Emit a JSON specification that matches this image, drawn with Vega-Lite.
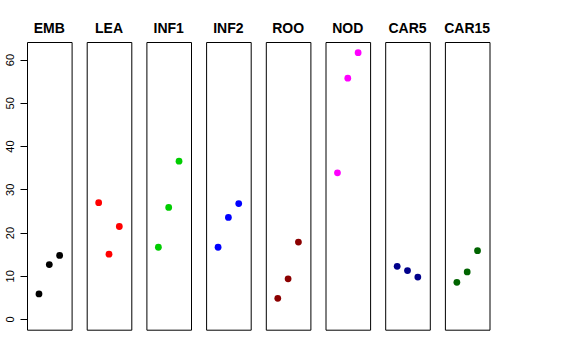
{
  "$schema": "https://vega.github.io/schema/vega-lite/v6.json",
  "padding": {"left": 3, "top": 22, "right": 5, "bottom": 5},
  "background": "white",
  "bounds": "flush",
  "data": {"values": [
    {"tissue": "EMB", "x": 1, "y": 5.8},
    {"tissue": "EMB", "x": 2, "y": 12.6},
    {"tissue": "EMB", "x": 3, "y": 14.7},
    {"tissue": "LEA", "x": 1, "y": 26.9},
    {"tissue": "LEA", "x": 2, "y": 15.0},
    {"tissue": "LEA", "x": 3, "y": 21.4},
    {"tissue": "INF1", "x": 1, "y": 16.6},
    {"tissue": "INF1", "x": 2, "y": 25.8},
    {"tissue": "INF1", "x": 3, "y": 36.5},
    {"tissue": "INF2", "x": 1, "y": 16.6},
    {"tissue": "INF2", "x": 2, "y": 23.5},
    {"tissue": "INF2", "x": 3, "y": 26.7},
    {"tissue": "ROO", "x": 1, "y": 4.8},
    {"tissue": "ROO", "x": 2, "y": 9.3},
    {"tissue": "ROO", "x": 3, "y": 17.8},
    {"tissue": "NOD", "x": 1, "y": 33.8},
    {"tissue": "NOD", "x": 2, "y": 55.7},
    {"tissue": "NOD", "x": 3, "y": 61.6},
    {"tissue": "CAR5", "x": 1, "y": 12.2},
    {"tissue": "CAR5", "x": 2, "y": 11.2},
    {"tissue": "CAR5", "x": 3, "y": 9.7},
    {"tissue": "CAR15", "x": 1, "y": 8.5},
    {"tissue": "CAR15", "x": 2, "y": 10.9},
    {"tissue": "CAR15", "x": 3, "y": 15.8}
  ]},
  "facet": {
    "column": {
      "field": "tissue",
      "type": "nominal",
      "sort": ["EMB", "LEA", "INF1", "INF2", "ROO", "NOD", "CAR5", "CAR15"],
      "header": {
        "title": null,
        "labelFont": "Liberation Sans",
        "labelFontSize": 14,
        "labelFontWeight": "bold",
        "labelColor": "black",
        "labelPadding": 6
      }
    }
  },
  "spacing": 14.7,
  "spec": {
    "width": 44.6,
    "height": 287.7,
    "mark": {"type": "point", "filled": true, "shape": "circle", "size": 46, "opacity": 1},
    "encoding": {
      "x": {"field": "x", "type": "quantitative", "scale": {"domain": [-0.16, 4.16], "nice": false, "zero": false}, "axis": null},
      "y": {
        "field": "y", "type": "quantitative",
        "scale": {"domain": [-2.46, 64.06], "nice": false, "zero": false},
        "axis": {
          "title": null,
          "values": [0, 10, 20, 30, 40, 50, 60],
          "domain": false,
          "grid": false,
          "tickSize": 7,
          "tickColor": "black",
          "labelAngle": -90,
          "labelFont": "Liberation Sans",
          "labelFontSize": 11,
          "labelColor": "black",
          "labelPadding": 5
        }
      },
      "color": {
        "field": "tissue", "type": "nominal",
        "scale": {
          "domain": ["EMB", "LEA", "INF1", "INF2", "ROO", "NOD", "CAR5", "CAR15"],
          "range": ["#000000", "#FF0000", "#00CD00", "#0000FF", "#8B0000", "#FF00FF", "#00008B", "#006400"]
        },
        "legend": null
      }
    }
  },
  "config": {
    "view": {"stroke": "black", "strokeWidth": 1}
  }
}
